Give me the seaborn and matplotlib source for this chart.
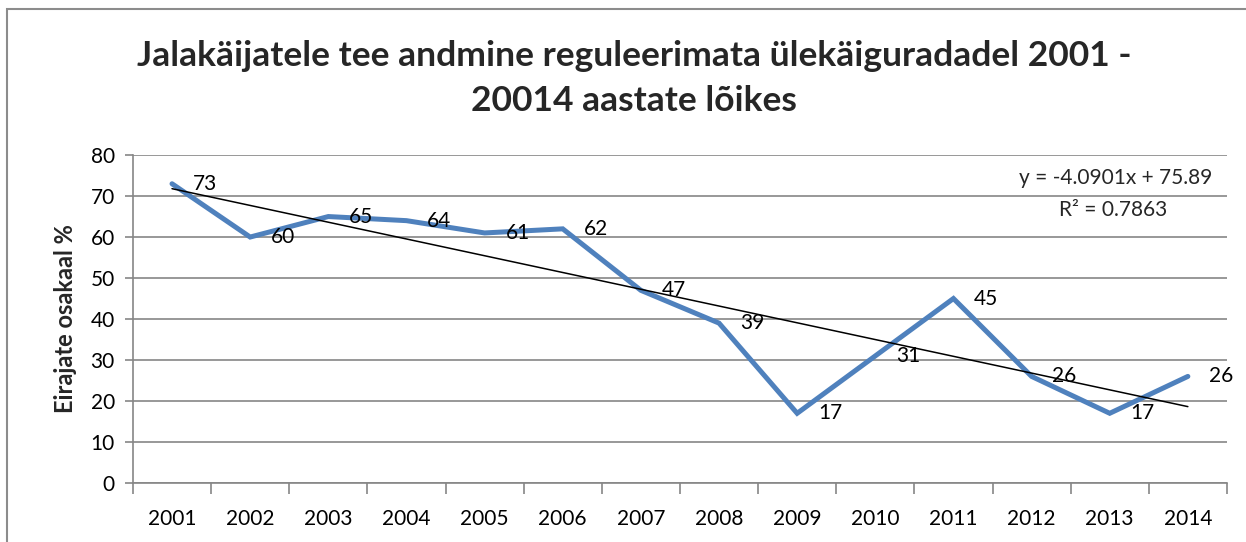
import numpy as np
import pandas as pd
import seaborn as sns
import matplotlib.pyplot as plt
from matplotlib.patches import Rectangle
from matplotlib.ticker import MultipleLocator

years = ["2001", "2002", "2003", "2004", "2005", "2006", "2007",
         "2008", "2009", "2010", "2011", "2012", "2013", "2014"]
values = [73, 60, 65, 64, 61, 62, 47, 39, 17, 31, 45, 26, 17, 26]

title = "Jalakäijatele tee andmine reguleerimata ülekäiguradadel 2001 -\n20014 aastate lõikes"
y_label = "Eirajate osakaal %"

line_color = "#4F81BD"
grid_color = "#868686"

sns.set_theme(style="white")
plt.rcParams['font.family'] = ['Lato', 'DejaVu Sans']

df = pd.DataFrame({"pos": np.arange(len(years)), "value": values})

fig = plt.figure(figsize=(12.46, 5.42), dpi=100)
ax = fig.add_axes([0.1067, 0.1089, 0.878, 0.605])

# outer chart border (only top and left visible in the reference)
fig.patches.append(Rectangle((7 / 1246, -0.1), 1.2, 1 - 9 / 542 + 0.1, transform=fig.transFigure,
                             fill=False, edgecolor="#8C8C8C", linewidth=1.5))

sns.lineplot(data=df, x="pos", y="value", ax=ax, color=line_color, linewidth=3.6,
             solid_joinstyle="miter", zorder=3)

# linear trend line (Excel style, x = 1..n)
xs = np.arange(1, len(values) + 1)
slope, intercept = np.polyfit(xs, values, 1)
r2 = np.corrcoef(xs, values)[0, 1] ** 2
ax.plot(df["pos"], slope * xs + intercept, color="black", linewidth=1.1, zorder=4)

for x, v in zip(df["pos"], values):
    ax.annotate(str(v), (x, v), xytext=(15, 0), textcoords="offset points",
                ha="left", va="center", fontsize=15, color="black", zorder=5)

ax.text(0.987, 0.93, f"y = {slope:.4f}x + {intercept:.2f}", transform=ax.transAxes,
        ha="right", va="center", fontsize=15)
ax.text(0.945, 0.832, f"R² = {r2:.4f}", transform=ax.transAxes,
        ha="right", va="center", fontsize=15)

ax.set_xlim(-0.5, len(years) - 0.5)
ax.set_ylim(0, 80)
ax.yaxis.set_major_locator(MultipleLocator(10))
ax.set_xticks(df["pos"])
ax.set_xticklabels(years)
ax.set_xticks(np.arange(-0.5, len(years)), minor=True)
ax.tick_params(axis="x", which="major", length=0, pad=19, labelsize=15, colors="black")
ax.tick_params(axis="x", which="minor", length=8, width=1.2, color=grid_color, bottom=True)
ax.tick_params(axis="y", length=6, width=1.2, color=grid_color, left=True, pad=7,
               labelsize=15, labelcolor="black")

ax.grid(axis="y", color=grid_color, linewidth=1.2)
ax.grid(axis="x", visible=False)
for side in ["top", "right"]:
    ax.spines[side].set_visible(False)
for side in ["left", "bottom"]:
    ax.spines[side].set_color(grid_color)
    ax.spines[side].set_linewidth(1.2)

ax.set_xlabel("")
ax.set_ylabel(y_label, fontsize=17, fontweight="bold", labelpad=10)

fig.text(0.509, 0.855, title, ha="center", va="center", fontsize=25.5, fontweight="bold",
         linespacing=1.5)

fig.savefig("out.png", dpi=100)
